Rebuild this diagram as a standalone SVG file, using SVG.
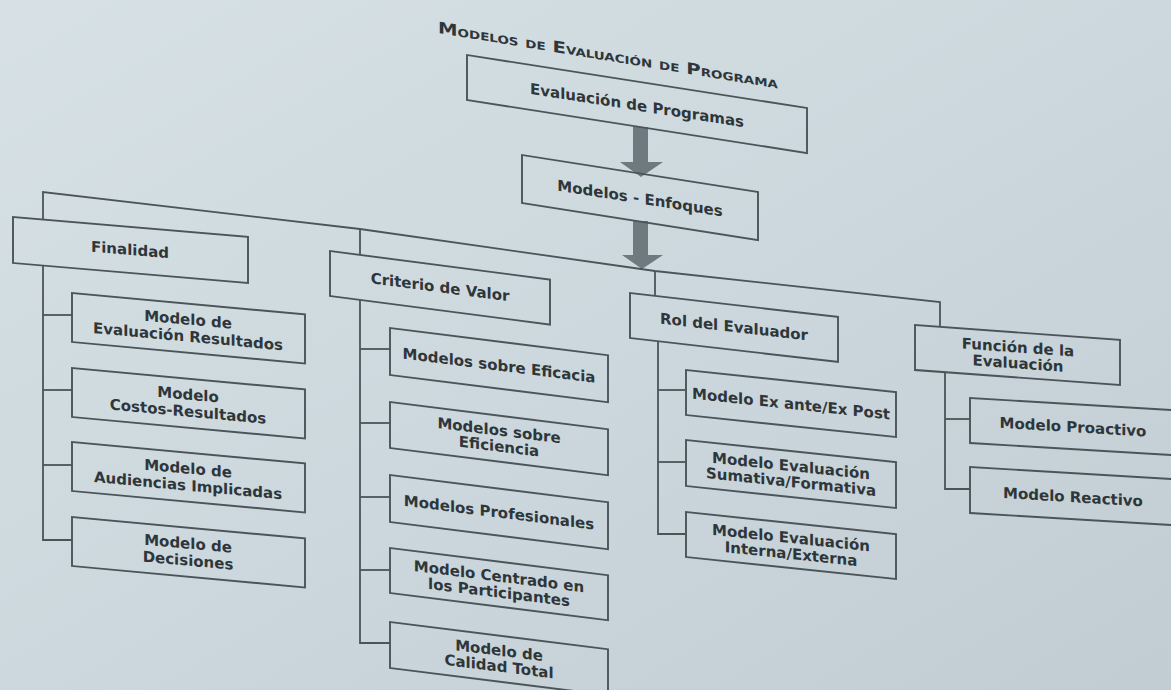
<svg xmlns="http://www.w3.org/2000/svg" width="1171" height="690" viewBox="0 0 1171 690">
<defs>
<linearGradient id="bg" x1="0" y1="0" x2="1" y2="1">
<stop offset="0" stop-color="#d7e1e5"/>
<stop offset="0.5" stop-color="#ccd8dd"/>
<stop offset="1" stop-color="#c1cdd2"/>
</linearGradient>
<style>
.box{fill:none;stroke:#4b5459;stroke-width:1.9}
.con{fill:none;stroke:#4b5459;stroke-width:1.8;stroke-linejoin:miter}
.arr{fill:#6f7a80}
.t{font-family:"DejaVu Sans","Liberation Sans",sans-serif;font-weight:bold;font-size:15px;fill:#2f363a;text-anchor:middle}
.title{font-family:"DejaVu Sans","Liberation Sans",sans-serif;font-weight:bold;font-size:16px;fill:#2f363a;font-variant:small-caps}
</style>
</defs>
<rect x="0" y="0" width="1171" height="690" fill="url(#bg)"/>

<g id="title" transform="matrix(1 0.163 0 1 438 33)">
<text class="title" x="0" y="0" textLength="340" lengthAdjust="spacingAndGlyphs">Modelos de Evaluación de Programa</text>
</g>

<g id="connectors">
<polygon class="arr" points="633,127 648,127 648,162 663,162 641,177 620,162 633,162"/>
<polygon class="arr" points="633,221 648,221 648,255 663,255 642,269 622,255 633,255"/>
<polyline class="con" points="43,220 43,192 360,229 655,271 940,302 940,327"/>
<line class="con" x1="360" y1="229" x2="360" y2="255"/>
<line class="con" x1="655" y1="271" x2="655" y2="296"/>
<polyline class="con" points="43,266 43,540 72,540"/>
<line class="con" x1="43" y1="315" x2="72" y2="315"/>
<line class="con" x1="43" y1="390" x2="72" y2="390"/>
<line class="con" x1="43" y1="465" x2="72" y2="465"/>
<polyline class="con" points="360,300 360,643 390,643"/>
<line class="con" x1="360" y1="349" x2="390" y2="349"/>
<line class="con" x1="360" y1="423" x2="390" y2="423"/>
<line class="con" x1="360" y1="497" x2="390" y2="497"/>
<line class="con" x1="360" y1="570" x2="390" y2="570"/>
<polyline class="con" points="658,341 658,534 686,534"/>
<line class="con" x1="658" y1="390" x2="686" y2="390"/>
<line class="con" x1="658" y1="462" x2="686" y2="462"/>
<polyline class="con" points="945,372 945,489 970,489"/>
<line class="con" x1="945" y1="419" x2="970" y2="419"/>
</g>

<g id="evaluacion-programas" transform="matrix(1 0.156 0 1 467 55)">
<rect class="box" x="0" y="0" width="340" height="45"/>
<text class="t" x="170" y="29">Evaluación de Programas</text>
</g>

<g id="modelos-enfoques" transform="matrix(1 0.157 0 1 522 155)">
<rect class="box" x="0" y="0" width="236" height="48"/>
<text class="t" x="118" y="30">Modelos - Enfoques</text>
</g>

<g id="finalidad" transform="matrix(1 0.085 0 1 13 217)">
<rect class="box" x="0" y="0" width="235" height="46"/>
<text class="t" x="117" y="28">Finalidad</text>
</g>

<g id="f-resultados" transform="matrix(1 0.092 0 1 72 293)">
<rect class="box" x="0" y="0" width="233" height="49"/>
<text class="t" x="116" y="21">Modelo de</text>
<text class="t" x="116" y="38">Evaluación Resultados</text>
</g>
<g id="f-costos" transform="matrix(1 0.092 0 1 72 368)">
<rect class="box" x="0" y="0" width="233" height="49"/>
<text class="t" x="116" y="21">Modelo</text>
<text class="t" x="116" y="38">Costos-Resultados</text>
</g>
<g id="f-audiencias" transform="matrix(1 0.092 0 1 72 442)">
<rect class="box" x="0" y="0" width="233" height="49"/>
<text class="t" x="116" y="21">Modelo de</text>
<text class="t" x="116" y="38">Audiencias Implicadas</text>
</g>
<g id="f-decisiones" transform="matrix(1 0.092 0 1 72 517)">
<rect class="box" x="0" y="0" width="233" height="49"/>
<text class="t" x="116" y="21">Modelo de</text>
<text class="t" x="116" y="38">Decisiones</text>
</g>

<g id="criterio" transform="matrix(1 0.13 0 1 330 251)">
<rect class="box" x="0" y="0" width="220" height="45"/>
<text class="t" x="110" y="27">Criterio de Valor</text>
</g>

<g id="c-eficacia" transform="matrix(1 0.125 0 1 390 328)">
<rect class="box" x="0" y="0" width="218" height="47"/>
<text class="t" x="109" y="29">Modelos sobre Eficacia</text>
</g>
<g id="c-eficiencia" transform="matrix(1 0.125 0 1 390 402)">
<rect class="box" x="0" y="0" width="218" height="46"/>
<text class="t" x="109" y="20">Modelos sobre</text>
<text class="t" x="109" y="36">Eficiencia</text>
</g>
<g id="c-profesionales" transform="matrix(1 0.125 0 1 390 475)">
<rect class="box" x="0" y="0" width="218" height="47"/>
<text class="t" x="109" y="29">Modelos Profesionales</text>
</g>
<g id="c-participantes" transform="matrix(1 0.125 0 1 390 548)">
<rect class="box" x="0" y="0" width="218" height="45"/>
<text class="t" x="109" y="20">Modelo Centrado en</text>
<text class="t" x="109" y="36">los Participantes</text>
</g>
<g id="c-calidad" transform="matrix(1 0.125 0 1 390 622)">
<rect class="box" x="0" y="0" width="218" height="46"/>
<text class="t" x="109" y="20">Modelo de</text>
<text class="t" x="109" y="36">Calidad Total</text>
</g>

<g id="rol" transform="matrix(1 0.115 0 1 630 293)">
<rect class="box" x="0" y="0" width="208" height="45"/>
<text class="t" x="104" y="27">Rol del Evaluador</text>
</g>

<g id="r-exante" transform="matrix(1 0.105 0 1 686 370)">
<rect class="box" x="0" y="0" width="210" height="45"/>
<text class="t" x="105" y="28">Modelo Ex ante/Ex Post</text>
</g>
<g id="r-sumativa" transform="matrix(1 0.105 0 1 686 440)">
<rect class="box" x="0" y="0" width="210" height="46"/>
<text class="t" x="105" y="20">Modelo Evaluación</text>
<text class="t" x="105" y="36">Sumativa/Formativa</text>
</g>
<g id="r-interna" transform="matrix(1 0.105 0 1 686 512)">
<rect class="box" x="0" y="0" width="210" height="45"/>
<text class="t" x="105" y="20">Modelo Evaluación</text>
<text class="t" x="105" y="36">Interna/Externa</text>
</g>

<g id="funcion" transform="matrix(1 0.073 0 1 915 325)">
<rect class="box" x="0" y="0" width="205" height="45"/>
<text class="t" x="103" y="20">Función de la</text>
<text class="t" x="103" y="36">Evaluación</text>
</g>

<g id="fn-proactivo" transform="matrix(1 0.06 0 1 970 398)">
<rect class="box" x="0" y="0" width="205" height="45"/>
<text class="t" x="103" y="28">Modelo Proactivo</text>
</g>
<g id="fn-reactivo" transform="matrix(1 0.06 0 1 970 467)">
<rect class="box" x="0" y="0" width="205" height="46"/>
<text class="t" x="103" y="29">Modelo Reactivo</text>
</g>
</svg>
